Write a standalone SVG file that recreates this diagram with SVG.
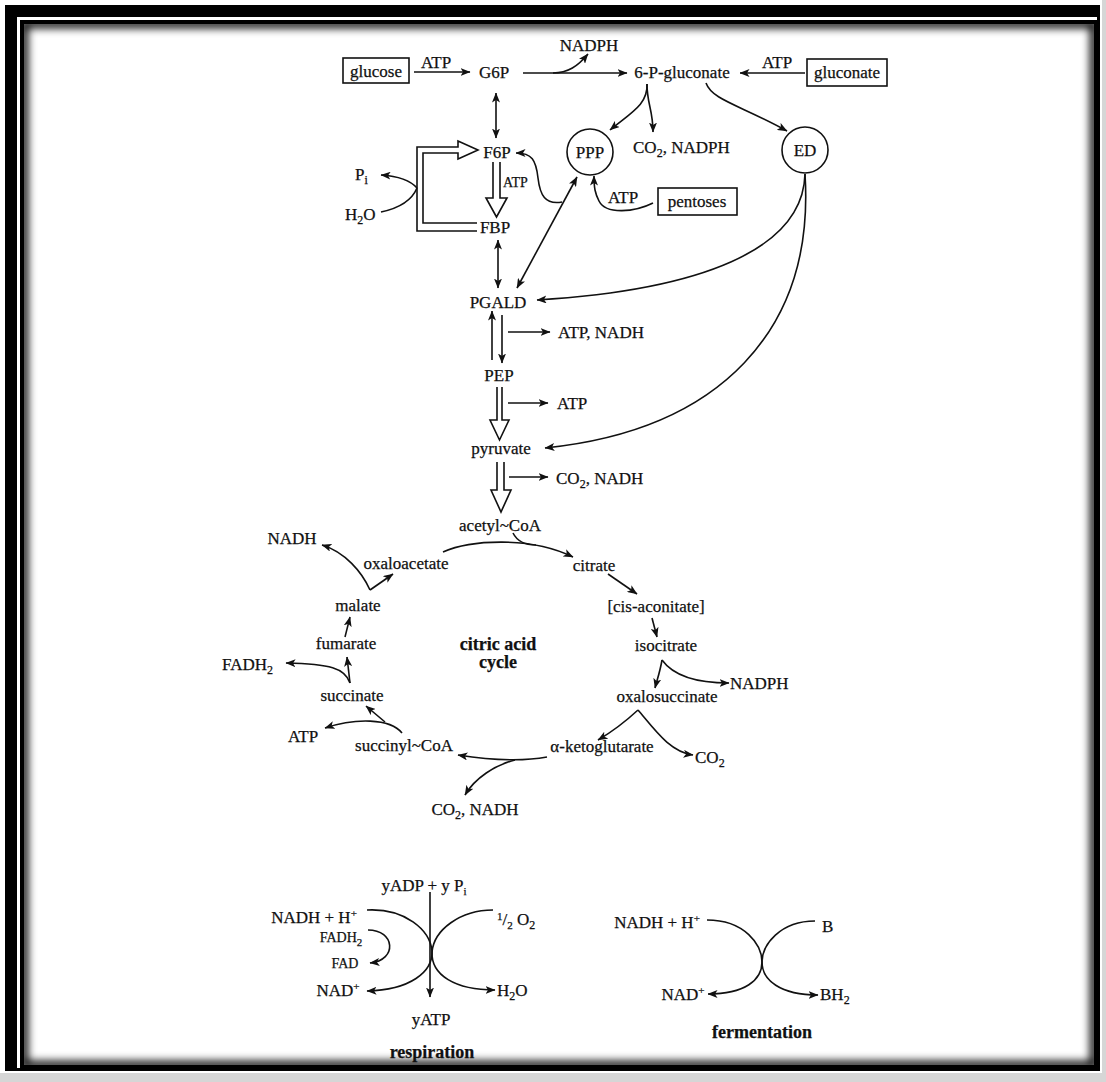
<svg xmlns="http://www.w3.org/2000/svg" width="1106" height="1082" viewBox="0 0 1106 1082">
  <style>
    .t{font-family:"Liberation Serif","Times New Roman",serif;font-size:17px;fill:#111;stroke:#111;stroke-width:0.25}
    .s{font-size:14px}
    .b{font-weight:bold;font-size:18px}
    .ln{fill:none;stroke:#111;stroke-width:1.6}
    .arr{marker-end:url(#ah)}
    .dbl{marker-start:url(#ah);marker-end:url(#ah)}
    .hollow{fill:#fff;stroke:#111;stroke-width:1.6;stroke-linejoin:miter}
    .box{fill:#fff;stroke:#111;stroke-width:1.6}
  </style>
  <defs>
    <marker id="ah" viewBox="0 0 10 8" refX="9.5" refY="4" markerWidth="10" markerHeight="8" markerUnits="userSpaceOnUse" orient="auto-start-reverse">
      <path d="M0,0 L10,4 L0,8 L2.5,4 z" fill="#111"/>
    </marker>
    <clipPath id="inner">
      <rect x="24" y="24" width="1070" height="1041"/>
    </clipPath>
    <filter id="soft" x="-5%" y="-5%" width="110%" height="110%">
      <feGaussianBlur stdDeviation="4"/>
    </filter>
  </defs>

  <!-- page and double frame -->
  <rect x="0" y="0" width="1106" height="1082" fill="#d6d6d6"/>
  <rect x="0" y="0" width="1102" height="1073" fill="#fff"/>
  <rect x="5" y="5" width="1095" height="1066" fill="#000"/>
  <rect x="17" y="17" width="1080" height="1051" fill="#fff"/>
  <rect x="20" y="20" width="1077" height="1048" fill="#000"/>
  <rect x="24" y="24" width="1070" height="1041" fill="#fff"/>
  <rect x="24" y="24" width="1070" height="1041" fill="none" stroke="#000" stroke-width="8" clip-path="url(#inner)" filter="url(#soft)"/>

  <!-- connectors -->
  <g id="connectors">
    <!-- top row -->
    <path class="ln arr" d="M414,72 L470,72"/>
    <path class="ln arr" d="M523,73 L627,73"/>
    <path class="ln arr" d="M553,73 C568,73 578,66 588,54"/>
    <path class="ln arr" d="M805,73 L740,73"/>
    <path class="ln arr" d="M647,84 C648,104 632,112 610,130"/>
    <path class="ln arr" d="M647,84 C647,104 653,110 653,132"/>
    <path class="ln arr" d="M706,83 C712,100 740,105 787,131"/>
    <!-- upper glycolysis -->
    <path class="ln dbl" d="M496,93 L496,138"/>
    <path class="hollow" d="M493,162 L493,198 L486,198 L496.5,217 L507,198 L500,198 L500,162"/>
    <path class="hollow" d="M477,223 L423,223 L423,153 L458,153 L458,159 L478,150 L458,141 L458,147 L417,147 L417,231 L477,231"/>
    <path class="ln arr" d="M417,188 C410,180 396,176 381,175"/>
    <path class="ln" d="M381,212 C400,208 412,200 417,188"/>
    <path class="ln arr" d="M653,203 C635,212 606,215 599,201 C595,193 594,188 594,176"/>
    <path class="ln arr" d="M562,202 C545,205 540,195 538,178 C536,160 532,153 516,153"/>
    <path class="ln dbl" d="M577,177 L517,288"/>
    <path class="ln dbl" d="M498,240 L498,288"/>
    <!-- Entner-Doudoroff branches -->
    <path class="ln arr" d="M805,174 C803,250 700,290 537,300"/>
    <path class="ln arr" d="M805,174 C815,330 720,430 545,448"/>
    <!-- lower glycolysis -->
    <path class="ln arr" d="M492,360 L492,311"/>
    <path class="ln arr" d="M502,315 L502,363"/>
    <path class="ln arr" d="M508,332 L550,332"/>
    <path class="hollow" d="M497,387 L497,420 L490,420 L499.5,440 L509,420 L502,420 L502,387"/>
    <path class="ln arr" d="M508,403 L548,403"/>
    <path class="hollow" d="M497,462 L497,490 L491,490 L501,512 L511,490 L504,490 L504,462"/>
    <path class="ln arr" d="M509,477 L548,477"/>
    <!-- citric acid cycle -->
    <path class="ln arr" d="M443,552 C470,540 530,536 573,557"/>
    <path class="ln" d="M513,533 C517,541 524,545 536,545"/>
    <path class="ln arr" d="M608,574 L637,594"/>
    <path class="ln arr" d="M652,618 L657,637"/>
    <path class="ln arr" d="M662,660 C660,672 657,680 655,688"/>
    <path class="ln arr" d="M662,660 C675,678 700,683 729,683"/>
    <path class="ln arr" d="M638,710 C625,722 610,733 598,740"/>
    <path class="ln arr" d="M638,710 C655,730 670,752 693,755"/>
    <path class="ln arr" d="M547,757 C520,762 490,760 458,755"/>
    <path class="ln arr" d="M515,760 C495,765 475,778 465,795"/>
    <path class="ln arr" d="M402,733 C390,718 355,718 325,728"/>
    <path class="ln arr" d="M385,722 L366,706"/>
    <path class="ln arr" d="M350,683 C345,668 330,664 286,663"/>
    <path class="ln arr" d="M350,683 L347,657"/>
    <path class="ln arr" d="M345,637 L350,617"/>
    <path class="ln arr" d="M370,590 L393,574"/>
    <path class="ln arr" d="M370,590 C362,572 345,552 322,545"/>
    <!-- respiration -->
    <path class="ln arr" d="M430,892 L430,997"/>
    <path class="ln arr" d="M367,910 C405,908 430,930 432,951 C433,972 410,990 367,991"/>
    <path class="ln arr" d="M493,910 C460,910 434,930 432,952 C431,975 455,990 495,990"/>
    <path class="ln arr" d="M368,930 C395,930 398,960 370,963"/>
    <!-- fermentation -->
    <path class="ln arr" d="M707,920 C745,920 762,945 762,962 C762,980 745,994 708,994"/>
    <path class="ln arr" d="M815,921 C780,921 762,945 762,962 C762,980 780,995 818,995"/>
  </g>

  <!-- metabolite nodes -->
  <g id="glucose"><rect class="box" x="343" y="58" width="66" height="25"/><text class="t" x="376" y="77" text-anchor="middle">glucose</text></g>
  <g id="atp-glucose"><text class="t" x="436" y="68" text-anchor="middle">ATP</text></g>
  <g id="g6p"><text class="t" x="494" y="78" text-anchor="middle">G6P</text></g>
  <g id="nadph-top"><text class="t" x="589" y="51" text-anchor="middle">NADPH</text></g>
  <g id="p-gluconate"><text class="t" x="682" y="78" text-anchor="middle">6-P-gluconate</text></g>
  <g id="atp-gluconate"><text class="t" x="777" y="68" text-anchor="middle">ATP</text></g>
  <g id="gluconate"><rect class="box" x="807" y="59" width="80" height="27"/><text class="t" x="847" y="78" text-anchor="middle">gluconate</text></g>
  <g id="ppp"><circle class="box" cx="590" cy="152" r="23"/><text class="t" x="590" y="158" text-anchor="middle" font-size="16">PPP</text></g>
  <g id="co2-nadph"><text class="t" x="633" y="153">CO<tspan font-size="12" dy="4">2</tspan><tspan dy="-4">, NADPH</tspan></text></g>
  <g id="ed"><circle class="box" cx="805" cy="150" r="23"/><text class="t" x="805" y="156" text-anchor="middle" font-size="16">ED</text></g>
  <g id="f6p"><text class="t" x="497" y="158" text-anchor="middle">F6P</text></g>
  <g id="atp-f6p"><text class="t s" x="503" y="187">ATP</text></g>
  <g id="pentoses"><rect class="box" x="658" y="188" width="79" height="27"/><text class="t" x="697" y="207" text-anchor="middle">pentoses</text></g>
  <g id="atp-pentoses"><text class="t" x="623" y="203" text-anchor="middle">ATP</text></g>
  <g id="pi"><text class="t" x="355" y="180">P<tspan font-size="12" dy="4">i</tspan></text></g>
  <g id="h2o"><text class="t" x="345" y="220">H<tspan font-size="12" dy="4">2</tspan><tspan dy="-4">O</tspan></text></g>
  <g id="fbp"><text class="t" x="495" y="233" text-anchor="middle">FBP</text></g>
  <g id="pgald"><text class="t" x="498" y="308" text-anchor="middle">PGALD</text></g>
  <g id="atp-nadh"><text class="t" x="558" y="338">ATP, NADH</text></g>
  <g id="pep"><text class="t" x="499" y="381" text-anchor="middle">PEP</text></g>
  <g id="atp-pep"><text class="t" x="557" y="409">ATP</text></g>
  <g id="pyruvate"><text class="t" x="501" y="454" text-anchor="middle">pyruvate</text></g>
  <g id="co2-nadh-pyr"><text class="t" x="556" y="484">CO<tspan font-size="12" dy="4">2</tspan><tspan dy="-4">, NADH</tspan></text></g>
  <g id="acetyl-coa"><text class="t" x="500" y="531" text-anchor="middle">acetyl~CoA</text></g>

  <!-- citric acid cycle nodes -->
  <g id="nadh-mal"><text class="t" x="292" y="544" text-anchor="middle">NADH</text></g>
  <g id="oxaloacetate"><text class="t" x="406" y="569" text-anchor="middle">oxaloacetate</text></g>
  <g id="citrate"><text class="t" x="594" y="571" text-anchor="middle">citrate</text></g>
  <g id="cis-aconitate"><text class="t" x="656" y="612" text-anchor="middle">[cis-aconitate]</text></g>
  <g id="malate"><text class="t" x="358" y="611" text-anchor="middle">malate</text></g>
  <g id="cycle-label"><text class="t b" x="498" y="650" text-anchor="middle">citric acid</text><text class="t b" x="498" y="668" text-anchor="middle">cycle</text></g>
  <g id="fumarate"><text class="t" x="346" y="649" text-anchor="middle">fumarate</text></g>
  <g id="isocitrate"><text class="t" x="666" y="651" text-anchor="middle">isocitrate</text></g>
  <g id="fadh2"><text class="t" x="222" y="670">FADH<tspan font-size="12" dy="4">2</tspan></text></g>
  <g id="nadph-iso"><text class="t" x="730" y="689">NADPH</text></g>
  <g id="succinate"><text class="t" x="352" y="701" text-anchor="middle">succinate</text></g>
  <g id="oxalosuccinate"><text class="t" x="667" y="702" text-anchor="middle">oxalosuccinate</text></g>
  <g id="atp-suc"><text class="t" x="303" y="742" text-anchor="middle">ATP</text></g>
  <g id="succinyl-coa"><text class="t" x="404" y="751" text-anchor="middle">succinyl~CoA</text></g>
  <g id="a-ketoglutarate"><text class="t" x="602" y="752" text-anchor="middle">α-ketoglutarate</text></g>
  <g id="co2-oxs"><text class="t" x="695" y="763">CO<tspan font-size="12" dy="4">2</tspan></text></g>
  <g id="co2-nadh-akg"><text class="t" x="475" y="815" text-anchor="middle">CO<tspan font-size="12" dy="4">2</tspan><tspan dy="-4">, NADH</tspan></text></g>

  <!-- respiration -->
  <g id="resp-adp"><text class="t" x="424" y="891" text-anchor="middle">yADP + y P<tspan font-size="11" dy="4">i</tspan></text></g>
  <g id="resp-nadh"><text class="t" x="314" y="923" text-anchor="middle">NADH + H<tspan font-size="11" dy="-6">+</tspan></text></g>
  <g id="resp-o2"><text class="t" x="497" y="925"><tspan font-size="11" dy="-5">1</tspan><tspan dy="5">/</tspan><tspan font-size="11" dy="4">2</tspan><tspan dy="-4"> O</tspan><tspan font-size="12" dy="4">2</tspan></text></g>
  <g id="resp-fadh2"><text class="t s" x="341" y="942" text-anchor="middle">FADH<tspan font-size="11" dy="4">2</tspan></text></g>
  <g id="resp-fad"><text class="t s" x="345" y="968" text-anchor="middle">FAD</text></g>
  <g id="resp-nad"><text class="t" x="338" y="996" text-anchor="middle">NAD<tspan font-size="11" dy="-6">+</tspan></text></g>
  <g id="resp-h2o"><text class="t" x="497" y="996">H<tspan font-size="12" dy="4">2</tspan><tspan dy="-4">O</tspan></text></g>
  <g id="resp-atp"><text class="t" x="431" y="1025" text-anchor="middle">yATP</text></g>
  <g id="respiration"><text class="t b" x="432" y="1058" text-anchor="middle">respiration</text></g>

  <!-- fermentation -->
  <g id="ferm-nadh"><text class="t" x="657" y="928" text-anchor="middle">NADH + H<tspan font-size="11" dy="-6">+</tspan></text></g>
  <g id="ferm-b"><text class="t" x="822" y="932">B</text></g>
  <g id="ferm-nad"><text class="t" x="683" y="1000" text-anchor="middle">NAD<tspan font-size="11" dy="-6">+</tspan></text></g>
  <g id="ferm-bh2"><text class="t" x="820" y="1000">BH<tspan font-size="12" dy="4">2</tspan></text></g>
  <g id="fermentation"><text class="t b" x="762" y="1038" text-anchor="middle">fermentation</text></g>
</svg>
